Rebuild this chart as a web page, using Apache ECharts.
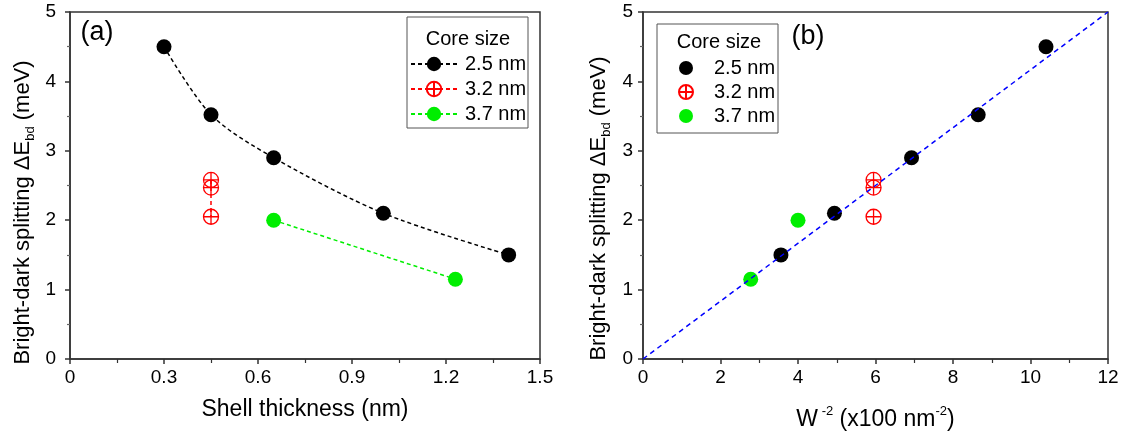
<!DOCTYPE html>
<html>
<head>
<meta charset="utf-8">
<script src="https://cdn.jsdelivr.net/npm/echarts@6/dist/echarts.min.js"></script>
<style>
html,body{margin:0;padding:0;background:#fff;}
#chart{width:1127px;height:439px;}
</style>
</head>
<body>
<div id="chart"></div>
<script>
// ---- data ----
const coreSizes = ['2.5 nm', '3.2 nm', '3.7 nm'];
const shell25 = [0.3, 0.45, 0.65, 1.0, 1.4];
const split25 = [4.5, 3.52, 2.9, 2.1, 1.5];
const shell32 = [0.45, 0.45, 0.45];
const split32 = [2.58, 2.47, 2.05];
const shell37 = [0.65, 1.23];
const split37 = [2.0, 1.15];
const winv25 = [10.4, 8.65, 6.93, 4.94, 3.56];
const winv32 = [5.95, 5.95, 5.95];
const winv37 = [4.0, 2.78];
const fitX = [0, 12];
const fitY = [0, 5];
const xTicksA = ['0', '0.3', '0.6', '0.9', '1.2', '1.5'];
const xTicksB = ['0', '2', '4', '6', '8', '10', '12'];
const yTicks = ['0', '1', '2', '3', '4', '5'];

const zip = (a, b) => a.map((v, i) => [v, b[i]]);
const FONT = "'Liberation Sans', Arial, sans-serif";
const AX = '#333';
const crossPath = 'path://M0,10A10,10,0,1,1,20,10A10,10,0,1,1,0,10ZM10,0L10,20M0,10L20,10';
const RED = '#ff0000', GREEN = '#00ee00', BLACK = '#000000', BLUE = '#0000ff';

function xAxisCfg(grid, min, max, interval, ticks, name, gap, rich) {
  return {
    type: 'value', gridIndex: grid, min: min, max: max, interval: interval,
    axisLine: {show: true, onZero: false, lineStyle: {color: AX, width: 1.5}},
    axisTick: {show: true, inside: false, length: 5, lineStyle: {color: AX, width: 1.5}},
    minorTick: {show: true, splitNumber: 2, length: 4, lineStyle: {color: AX, width: 1.2}},
    splitLine: {show: false},
    axisLabel: {fontSize: 19, color: '#000', fontFamily: FONT, margin: 9,
      formatter: v => ticks[Math.round((v - min) / interval)]},
    name: name, nameLocation: 'middle', nameGap: gap,
    nameTextStyle: {fontSize: 23, color: '#000', fontFamily: FONT, rich: rich}
  };
}
function yAxisCfg(grid, margin, gap, pad) {
  return {
    type: 'value', gridIndex: grid, min: 0, max: 5, interval: 1,
    axisLine: {show: true, onZero: false, lineStyle: {color: AX, width: 1.5}},
    axisTick: {show: true, inside: false, length: 5, lineStyle: {color: AX, width: 1.5}},
    minorTick: {show: true, splitNumber: 2, length: 3, lineStyle: {color: '#666', width: 1.2}},
    splitLine: {show: false},
    axisLabel: {fontSize: 19, color: '#000', fontFamily: FONT, margin: margin,
      formatter: v => yTicks[Math.round(v)]},
    name: '{a|Bright-dark splitting ΔE}{s|bd}{a| (meV)}',
    nameLocation: 'middle', nameRotate: 90, nameGap: gap,
    nameTextStyle: {
      padding: pad,
      rich: {
        a: {fontSize: 22, fontFamily: FONT, color: '#000', lineHeight: 28},
        s: {fontSize: 13, fontFamily: FONT, color: '#000', lineHeight: 13, verticalAlign: 'bottom'}
      }
    }
  };
}

const chart = echarts.init(document.getElementById('chart'), null, {renderer: 'canvas'});
const option = {
  backgroundColor: '#fff',
  animation: false,
  textStyle: {fontFamily: FONT},
  grid: [
    {left: 70, top: 12, width: 470, height: 347, show: true, borderColor: AX, borderWidth: 1.5, backgroundColor: 'transparent'},
    {left: 643, top: 12, width: 465, height: 347, show: true, borderColor: AX, borderWidth: 1.5, backgroundColor: 'transparent'}
  ],
  xAxis: [
    xAxisCfg(0, 0, 1.5, 0.3, xTicksA, 'Shell thickness (nm)', 39, {}),
    xAxisCfg(1, 0, 12, 2, xTicksB, '{a|W}{p| -2}{a| (x100 nm}{p|-2}{a|)}', 46, {
      a: {fontSize: 23, fontFamily: FONT, color: '#000', lineHeight: 30},
      p: {fontSize: 13, fontFamily: FONT, color: '#000', lineHeight: 13, verticalAlign: 'top'}
    })
  ],
  yAxis: [
    yAxisCfg(0, 14, 33, [0, 54, 0, 0]),
    yAxisCfg(1, 10, 30, [0, 46, 0, 0])
  ],
  legend: [
    {
      left: 410, top: 54, padding: 0, orient: 'vertical', itemWidth: 46, itemHeight: 18, itemGap: 5,
      data: coreSizes,
      textStyle: {fontSize: 20, color: '#000', fontFamily: FONT, padding: [0, 0, 0, 3]},
      selectedMode: false
    },
    {
      left: 678, top: 58, padding: 0, orient: 'vertical', itemWidth: 14, itemHeight: 14, itemGap: 4,
      data: [{name: coreSizes[0], icon: 'circle'}, {name: coreSizes[1], icon: crossPath}, {name: coreSizes[2], icon: 'circle'}],
      textStyle: {fontSize: 20, color: '#000', fontFamily: FONT, padding: [0, 0, 0, 16]},
      selectedMode: false
    }
  ],
  graphic: [
    {type: 'rect', z: 1, shape: {x: 407, y: 17, width: 121, height: 111}, style: {fill: '#fff', stroke: '#555', lineWidth: 1}},
    {type: 'rect', z: 1, shape: {x: 657, y: 24, width: 121, height: 109}, style: {fill: '#fff', stroke: '#555', lineWidth: 1}},
    {type: 'text', z: 5, x: 468, y: 39, style: {text: 'Core size', fontSize: 20, fontFamily: FONT, fill: '#000', align: 'center', textAlign: 'center', verticalAlign: 'middle', textVerticalAlign: 'middle'}},
    {type: 'text', z: 5, x: 719, y: 42, style: {text: 'Core size', fontSize: 20, fontFamily: FONT, fill: '#000', align: 'center', textAlign: 'center', verticalAlign: 'middle', textVerticalAlign: 'middle'}},
    {type: 'text', z: 5, x: 97, y: 33, style: {text: '(a)', fontSize: 27, fontFamily: FONT, fill: '#000', align: 'center', textAlign: 'center', verticalAlign: 'middle', textVerticalAlign: 'middle'}},
    {type: 'text', z: 5, x: 808, y: 37, style: {text: '(b)', fontSize: 27, fontFamily: FONT, fill: '#000', align: 'center', textAlign: 'center', verticalAlign: 'middle', textVerticalAlign: 'middle'}}
  ],
  series: [
    {name: coreSizes[0], type: 'line', xAxisIndex: 0, yAxisIndex: 0, data: zip(shell25, split25),
      smooth: 0.3, symbol: 'circle', symbolSize: 15,
      itemStyle: {color: BLACK}, lineStyle: {color: BLACK, type: [4, 3], width: 1.5}},
    {name: coreSizes[1], type: 'line', xAxisIndex: 0, yAxisIndex: 0, data: zip(shell32, split32),
      symbol: crossPath, symbolSize: 15,
      itemStyle: {color: 'rgba(255,255,255,0)', borderColor: RED, borderWidth: 1.3},
      lineStyle: {color: RED, type: [4, 3], width: 1.5}},
    {name: coreSizes[2], type: 'line', xAxisIndex: 0, yAxisIndex: 0, data: zip(shell37, split37),
      symbol: 'circle', symbolSize: 15,
      itemStyle: {color: GREEN}, lineStyle: {color: GREEN, type: [4, 3], width: 1.5}},
    {name: coreSizes[0], type: 'scatter', xAxisIndex: 1, yAxisIndex: 1, data: zip(winv25, split25),
      symbol: 'circle', symbolSize: 15, itemStyle: {color: BLACK, opacity: 1}},
    {name: coreSizes[1], type: 'scatter', xAxisIndex: 1, yAxisIndex: 1, data: zip(winv32, split32),
      symbol: crossPath, symbolSize: 15,
      itemStyle: {color: 'rgba(255,255,255,0)', borderColor: RED, borderWidth: 1.3, opacity: 1}},
    {name: coreSizes[2], type: 'scatter', xAxisIndex: 1, yAxisIndex: 1, data: zip(winv37, split37),
      symbol: 'circle', symbolSize: 15, itemStyle: {color: GREEN, opacity: 1}},
    {name: 'linear fit', type: 'line', xAxisIndex: 1, yAxisIndex: 1, data: zip(fitX, fitY), z: 3,
      symbol: 'none', lineStyle: {color: BLUE, type: [5, 4], width: 1.5}}
  ]
};
chart.setOption(option);
</script>
</body>
</html>
